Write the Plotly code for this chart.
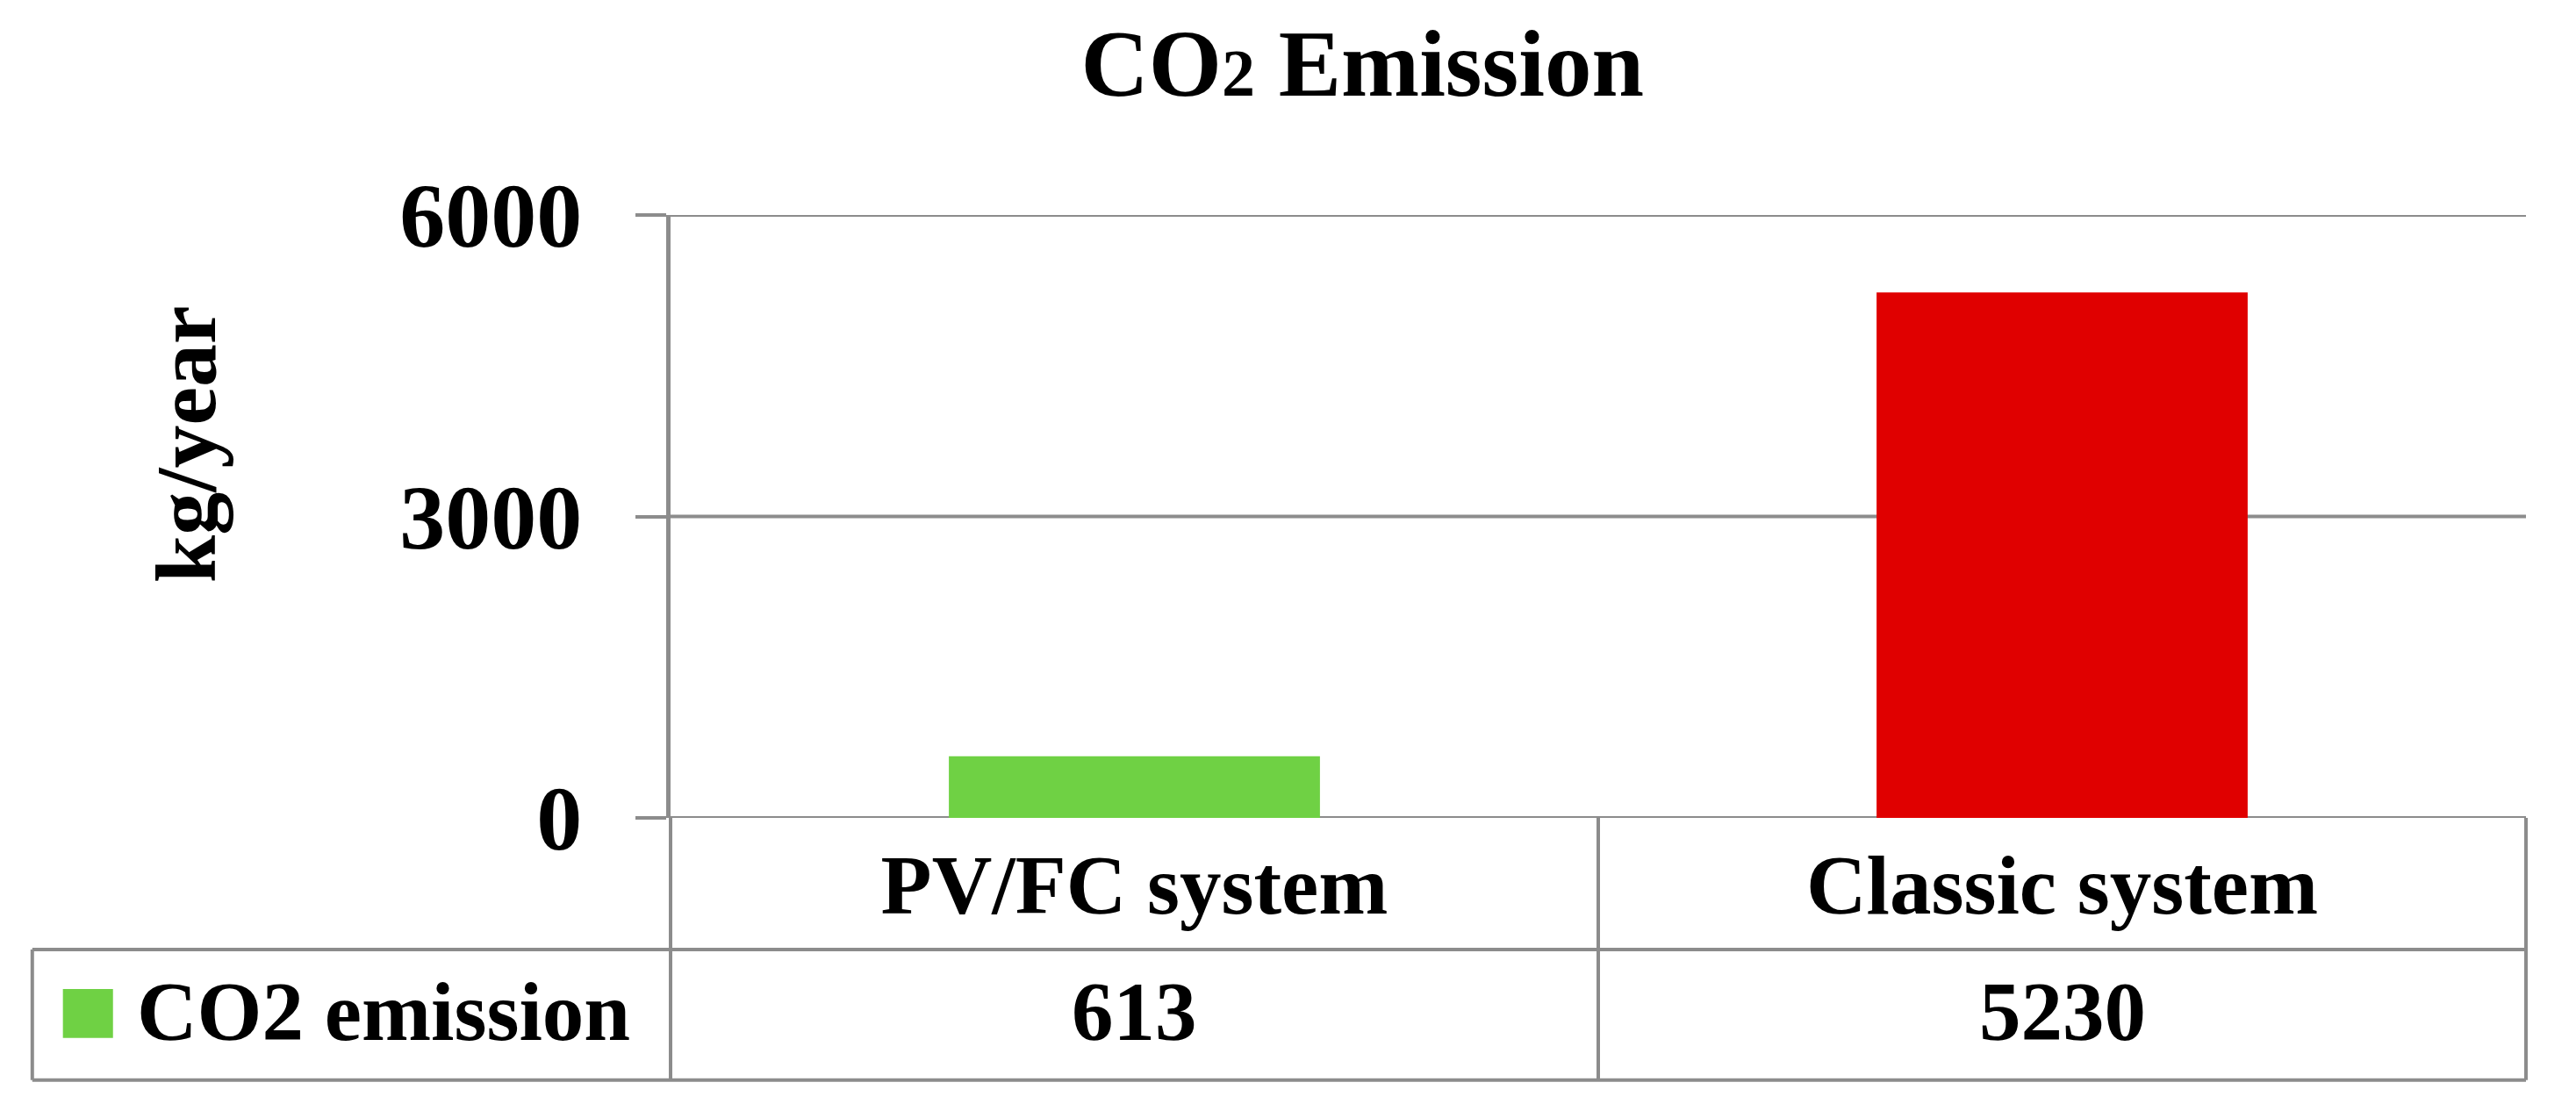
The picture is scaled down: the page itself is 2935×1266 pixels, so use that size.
import plotly.graph_objects as go

# chart data
categories = ["PV/FC system", "Classic system"]
emission = [613, 5230]
bar_colors = ["#6fd144", "#e00000"]
series_name = "CO2 emission"
y_ticks = [0, 3000, 6000]

FONT = "Liberation Serif"
GRID = "#8c8c8c"

fig = go.Figure()
fig.add_trace(go.Bar(
    x=categories,
    y=emission,
    name=series_name,
    marker=dict(color=bar_colors, line=dict(width=0)),
    width=0.4,
    showlegend=False,
))

# gridlines (plotly skips the ones on the range ends)
for t in y_ticks:
    fig.add_shape(type="line", xref="paper", yref="y", x0=0, x1=1, y0=t, y1=t,
                  line=dict(color=GRID, width=4), layer="below")

# data table row with values under each category
for cat, val in zip(categories, emission):
    fig.add_annotation(
        x=cat, xref="x", y=-0.322, yref="paper",
        text=str(val), showarrow=False, yanchor="middle",
        font=dict(family=FONT, size=95, color="black", weight="bold"),
    )

# legend key in the table
fig.add_annotation(
    x=-0.2885, xref="paper", y=-0.322, yref="paper",
    text=series_name, showarrow=False, xanchor="left", yanchor="middle",
    font=dict(family=FONT, size=95, color="black", weight="bold"),
)
fig.add_shape(type="rect", xref="paper", yref="paper",
              x0=-0.3275, x1=-0.3005, y0=-0.365, y1=-0.284,
              fillcolor=bar_colors[0], line=dict(width=0))

# y axis title
fig.add_annotation(
    x=-0.261, xref="paper", y=0.62, yref="paper",
    text="kg/year", textangle=-90, showarrow=False,
    xanchor="center", yanchor="middle",
    font=dict(family=FONT, size=98, color="black", weight="bold"),
)

# table borders
line = dict(color=GRID, width=4)
row1, row2, left = -0.2183, -0.435, -0.344
fig.add_shape(type="line", xref="paper", yref="paper", x0=left, x1=1, y0=row1, y1=row1, line=line)
fig.add_shape(type="line", xref="paper", yref="paper", x0=left, x1=1, y0=row2, y1=row2, line=line)
fig.add_shape(type="line", xref="paper", yref="paper", x0=left, x1=left, y0=row1, y1=row2, line=line)
for xp in [0, 0.5, 1]:
    fig.add_shape(type="line", xref="paper", yref="paper", x0=xp, x1=xp, y0=0, y1=row2, line=line)

fig.update_layout(
    width=2919, height=1250,
    margin=dict(l=756, r=49, t=237, b=326),
    paper_bgcolor="white", plot_bgcolor="white",
    title=dict(
        text="CO<span style='font-size:76px'>2</span> Emission",
        x=0.529, xref="container", xanchor="center",
        y=0.949, yref="container", yanchor="middle",
        font=dict(family=FONT, size=107, color="black", weight="bold"),
    ),
    bargap=0.6,
)
fig.update_xaxes(
    showline=False, showgrid=False, zeroline=False, ticks="",
    tickfont=dict(family=FONT, size=95, color="black", weight="bold"),
    ticklabelstandoff=13,
)
fig.update_yaxes(
    range=[0, 6000], tickvals=y_ticks, zeroline=False, showgrid=False,
    showline=True, linecolor=GRID, linewidth=5,
    ticks="outside", ticklen=35, tickwidth=4, tickcolor=GRID,
    ticklabelstandoff=40,
    tickfont=dict(family=FONT, size=104, color="black", weight="bold"),
)

fig.write_html("out.html")
